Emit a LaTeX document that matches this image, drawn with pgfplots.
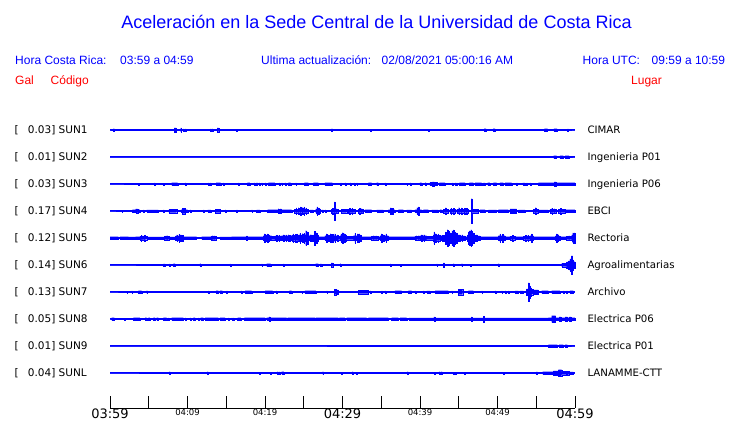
\documentclass[border=0pt]{standalone}
\usepackage{pgfplots}
\usepackage{pgfplotstable}
\pgfplotsset{compat=1.18}
\usepackage{fontspec}
\setmainfont{Liberation Sans}
\newfontfamily\dvs{DejaVu Sans}

\pgfplotstableread{
t a
0 0
0.43 1.3
0.55 0
8.26 2
8.52 0
9.12 2
9.22 0
9.46 1
9.56 0
9.72 1
9.82 0
12.95 1
13.05 0
13.16 1
13.26 0
13.81 2
14.02 0
16.34 0.8
16.44 0
28.60 1.3
28.70 0
33.63 0.8
33.73 0
41.08 0.8
41.18 0
48.26 1.3
48.52 0
49.42 1.3
49.68 0
56.04 1.3
56.47 0
57.29 1.3
57.68 0
59.05 1
59.15 0
60 0
}\sunA

\pgfplotstableread{
t a
0 0
57.25 1.3
57.63 0
58.06 1.3
58.49 0
58.71 1.3
59.23 0
60 0
}\sunB

\pgfplotstableread{
t a
0 0
3.66 0.8
3.76 0
5.72 1
5.82 0
6.88 0.8
6.98 0
7.96 1.3
8.73 0
9.68 1
9.78 0
12.69 1
12.79 0
12.95 1
13.05 0
13.68 1.3
14.28 0
14.62 1
14.72 0
16.56 1
16.66 0
17.72 1.3
18.06 0
18.58 1
18.68 0
18.92 1.3
19.02 0
19.23 1
19.33 0
19.57 1
19.67 0
20.00 1
20.10 0
20.43 1.3
21.29 0
21.85 1
21.95 0
22.15 1
22.25 0
22.58 1
22.68 0
23.01 1.3
23.31 0
23.96 1
24.06 0
25.08 1.3
25.59 0
26.24 1.3
26.88 0
27.74 1.3
28.69 0
29.76 1
29.86 0
30.32 1
30.42 0
30.97 1
31.07 0
31.48 1
31.58 0
31.83 1
31.93 0
33.33 1.3
33.76 0
34.41 1.3
34.62 0
35.48 1
35.58 0
38.28 0.8
38.38 0
38.71 1
38.81 0
40.00 1.3
40.22 0
40.65 1.3
40.80 0
41.29 1.6
41.60 2
41.85 1.6
42.15 0
42.49 1.3
43.23 0
44.17 1
44.27 0
44.52 1
44.62 0
44.73 1
44.83 0
45.08 1.3
45.81 0
46.37 1.3
46.88 0
47.10 1.3
47.96 0
48.17 1
48.39 0
48.73 1.3
49.03 0
49.46 1.3
49.89 0
50.32 1.3
50.75 0
50.97 1.3
51.83 0
52.47 1
52.57 0
53.25 1
53.55 0
53.76 1
53.86 0
54.19 1
54.29 0
55.27 1.3
57.30 2
57.55 1.3
60 1.3
}\sunC

\pgfplotstableread{
t a
0 0
1.51 0.7
1.61 0
2.88 1.3
3.31 2
3.57 1.3
3.87 0
4.30 1
4.40 0
4.73 1
6.24 0
6.88 1
6.98 0
7.61 1.7
8.60 0
9.16 1.3
9.33 2.7
9.68 1.3
10.02 0
10.32 1
10.42 0
12.04 1
12.14 0
12.60 1
13.03 0
13.55 1.7
14.19 0
14.84 1
14.94 0
16.34 1
16.44 0
18.28 1
18.38 0
18.92 1
19.35 0
20.34 1.3
21.72 2.3
21.80 1.3
22.00 2.3
22.08 1.3
23.44 0
23.78 1.7
24.00 3
24.08 1.7
24.30 3.3
24.38 1.7
24.55 4
24.63 1.7
24.80 3.3
24.88 1.7
25.00 4
25.08 1.7
25.25 3
25.33 1.7
25.59 0
25.81 1
26.24 0
26.54 2
26.70 4
26.78 2
26.90 3
26.98 2
27.10 0
27.31 1
27.53 0
27.74 1
27.84 0
28.60 1.7
28.70 2.7
28.78 1.7
28.95 9
29.05 1.7
29.20 2.3
29.28 1.7
29.46 0
29.89 1.7
30.54 0
30.67 1.7
30.90 2.7
30.98 1.7
31.20 2.7
31.28 1.7
31.61 0
32.04 1.7
32.20 2.7
32.28 1.7
32.45 2.3
32.53 1.7
32.69 0
32.90 1.3
33.76 0
34.41 1
35.27 0
35.91 1.3
36.20 3.3
36.28 1.3
36.40 2.7
36.48 1.3
36.77 0
37.20 1.3
37.85 0
38.28 1
38.92 0
39.35 1.3
39.60 3.3
39.68 1.3
39.80 4
39.88 1.3
40.22 0
40.43 1.3
41.08 0
41.51 1
42.37 0
42.58 1.3
42.80 0
43.01 1.7
43.30 3.3
43.38 1.7
43.66 0
43.87 1.7
44.00 2.7
44.08 1.7
44.30 2.7
44.38 1.7
44.52 0
44.73 1.7
45.00 3.3
45.08 1.7
45.30 3
45.38 1.7
45.70 2.7
45.78 1.7
46.00 2.7
46.08 1.7
46.24 0
46.62 12.3
46.72 1.7
47.53 0
47.74 1.3
48.39 0
48.82 1
49.89 0
50.11 1.3
51.40 0
51.61 2
52.47 0
52.69 1
53.55 0
54.62 1.7
54.90 3.3
54.98 1.7
55.27 1
56.56 0
56.77 1.7
57.00 2.7
57.08 1.7
57.30 2.3
57.38 1.7
57.63 0
57.85 1.7
58.10 2.7
58.18 1.7
58.71 1.3
60 1.3
}\sunD

\pgfplotstableread{
t a
0 1.3
1.08 0.5
1.29 1.3
2.37 1
3.31 1.3
3.87 1.7
4.00 2.7
4.08 1.7
4.20 2.3
4.28 1.7
4.40 2.7
4.48 1.7
4.73 1
7.01 1.7
7.20 2.3
7.28 1.7
7.40 2.3
7.48 1.7
7.66 1
8.47 2
8.60 3
8.68 2
8.90 3.7
8.98 2
9.10 3.3
9.18 2
9.30 2.7
9.38 2
9.46 1.3
11.18 0.5
11.83 1.3
13.03 1.7
13.20 2.3
13.28 1.7
13.40 2.3
13.48 1.7
13.76 0.5
14.19 1
15.70 1.3
17.63 2
17.71 1.3
19.78 2.3
19.90 4
19.98 2.3
20.10 3.3
20.18 2.3
20.30 4
20.38 2.3
20.50 3
20.58 2.3
20.86 1.7
21.29 2
21.50 2.7
21.58 2
21.80 2.7
21.88 2
22.15 2.3
22.40 3.3
22.48 2.3
22.70 3
22.78 2.3
23.00 3.3
23.08 2.3
23.20 2.7
23.28 2.3
23.44 2.7
23.60 4
23.68 2.7
23.90 3.7
23.98 2.7
24.10 4
24.18 2.7
24.30 3
24.50 4.7
24.58 3
24.80 4.3
24.88 3
25.00 4.7
25.08 3
25.16 3.3
25.25 7.3
25.33 3.3
25.45 6
25.53 3.3
25.59 2.3
25.80 3.3
25.88 2.3
26.00 3.3
26.08 2.3
26.24 3
26.40 6.7
26.48 3
26.60 5
26.68 3
26.88 1.3
27.74 2.3
27.90 4
27.98 2.3
28.20 3.3
28.28 2.3
28.40 4.3
28.48 2.3
28.70 3.7
28.78 2.3
29.00 4
29.08 2.3
29.30 3
29.38 2.3
29.46 1.7
29.68 2.3
29.80 4
29.88 2.3
30.00 5.3
30.08 2.3
30.20 4.3
30.28 2.3
30.40 3.3
30.48 2.3
30.54 1.7
31.40 2.3
31.60 4.7
31.68 2.3
31.90 4
31.98 2.3
32.10 4.3
32.18 2.3
32.30 3
32.38 2.3
32.47 1.3
33.76 1.7
34.00 2.3
34.08 1.7
34.30 2.3
34.38 1.7
34.62 1.3
34.84 2.3
35.00 4
35.08 2.3
35.30 3.3
35.38 2.3
35.60 4
35.68 2.3
35.91 1.3
39.35 1.7
39.50 2.3
39.58 1.7
39.80 2.3
39.88 1.7
40.00 2.3
40.20 3.3
40.28 2.3
40.50 3.3
40.58 2.3
40.86 1.7
41.72 3
41.80 6
41.88 3
42.00 4.3
42.08 3
42.15 2.7
42.30 4
42.38 2.7
42.58 2
42.80 2.7
42.88 2
43.00 2.7
43.08 2
43.23 3.3
43.30 6
43.38 3.3
43.50 8.3
43.58 3.3
43.70 6.7
43.78 3.3
43.90 5
43.98 3.3
44.10 7.3
44.18 3.3
44.30 8
44.38 3.3
44.50 6
44.58 3.3
44.70 5
44.78 3.3
44.95 2
45.10 3.3
45.18 2
45.40 3.3
45.48 2
45.81 1.3
46.11 3
46.20 6
46.28 3
46.40 7.3
46.48 3
46.55 8.3
46.63 3
46.70 6.7
46.78 3
46.90 5
46.98 3
47.10 2
47.30 3.3
47.38 2
47.74 1.3
50.11 2.3
50.30 4
50.38 2.3
50.60 3.7
50.68 2.3
50.97 1.3
51.61 1.7
51.90 2.7
51.98 1.7
52.26 1.3
53.33 1.7
53.60 2.7
53.68 1.7
53.90 2.7
53.98 1.7
54.19 2.3
54.40 4
54.48 2.3
54.62 1.3
57.42 2
57.60 4
57.68 2
57.80 3.3
57.88 2
58.06 1.3
58.92 1.7
59.20 2.3
59.28 1.7
59.57 3
59.70 5
59.78 3
59.90 5
60 5
}\sunE

\pgfplotstableread{
t a
0 0
6.88 1
7.10 0
7.66 1
7.76 0
8.17 1.3
8.39 0
11.61 1.3
11.71 0
15.48 1
15.58 0
19.57 1
19.67 0
20.22 1.3
20.73 0
22.37 1
22.47 0
26.54 1.3
26.88 0
27.10 1
27.31 0
28.52 2
28.73 0
29.68 1.3
29.78 0
36.13 1
36.23 0
37.42 0.7
37.52 0
42.15 1
42.25 0
43.01 2
43.16 0
44.30 1.3
44.40 0
45.38 1.3
45.48 0
46.45 0.8
46.55 0
50.11 1.3
50.21 0
58.28 1.7
58.92 3
59.15 4
59.35 6
59.55 9.3
59.65 5
59.80 3.3
60 3.3
}\sunF

\pgfplotstableread{
t a
0 0
2.15 0.8
2.25 0
2.80 1
2.90 0
3.66 1.3
4.09 0
4.73 1.3
4.83 0
12.69 1
12.79 0
13.68 1.3
13.98 0
14.19 1.3
14.49 0
15.05 1
15.15 0
16.90 1
17.00 0
17.42 1.3
18.28 0
20.00 1.3
20.99 0
21.42 1
21.52 0
23.14 1.3
23.44 0
24.73 0.8
24.83 0
25.16 1.3
26.58 0
27.96 1
28.06 0
28.95 2.7
29.20 2
29.46 0
32.04 1.7
33.33 0
33.55 1
33.65 0
35.05 1
35.15 0
35.48 1
35.58 0
36.77 1.3
37.63 0
38.49 1.3
38.92 0
39.35 1
39.45 0
40.43 1
40.53 0
40.86 1
41.29 0
41.94 1.3
43.66 0
44.09 1
44.19 0
44.95 2.7
45.51 0
46.24 1.3
46.88 0
47.96 1
48.06 0
49.68 1
49.78 0
50.54 1
50.64 0
50.97 1
51.07 0
51.40 1
51.50 0
52.26 1
52.69 0
52.90 1
53.33 0
53.76 3
53.95 9
54.10 6
54.25 4
54.40 2.7
54.54 2
55.27 0
55.70 1.3
56.56 0
56.99 1.3
58.06 0
58.49 1
58.59 0
58.92 1
59.02 0
59.35 1.3
59.78 0
60 0
}\sunG

\pgfplotstableread{
t a
0 0
0.22 1.3
0.56 0
1.85 0.7
1.95 0
3.01 1.3
3.87 0
4.52 1.3
4.73 0
4.95 1.3
5.16 0
5.59 1.3
5.81 0
6.02 1.3
6.24 0
6.88 1.3
7.31 0
7.53 1
7.63 0
7.96 1.3
9.46 0
9.68 1
9.78 0
10.32 1
10.42 0
10.75 1.3
10.97 0
11.40 1
11.50 0
11.70 1.3
12.04 0
12.26 1.3
13.98 0
14.19 1.3
14.84 0
15.27 1
15.37 0
15.70 1
15.80 0
15.91 1
16.01 0
16.47 1.3
16.90 0
17.33 1.3
20.00 0
20.22 1.3
20.50 2
20.62 1.3
22.80 0
22.92 1.3
26.45 0
26.54 1.3
29.46 0
29.59 1.3
30.32 0
30.54 1.3
33.12 0
33.33 1.3
35.91 0
36.34 1.3
37.20 0
37.42 1.3
38.28 0
38.58 1.2
41.80 2
41.90 1.2
46.62 2
46.72 1.2
48.21 2.7
48.31 1.2
56.56 1.3
56.99 3.3
57.50 1.3
57.94 2
58.19 1.3
58.71 2
59.01 1.3
59.27 2
59.48 1.3
60 1.3
}\sunH

\pgfplotstableread{
t a
0 0
56.56 1.3
57.72 0
57.94 1.3
58.49 0
58.71 1.3
59.01 0
60 0
}\sunI

\pgfplotstableread{
t a
0 0
7.66 1.3
7.76 0
12.56 1.3
12.66 0
19.27 0.8
19.37 0
20.69 0.8
20.79 0
21.59 1.3
21.69 0
21.81 1
21.91 0
22.15 1.3
22.45 0
27.44 1.3
27.54 0
29.85 0.8
29.95 0
31.27 1.3
31.37 0
31.78 0.8
31.88 0
38.37 1.3
38.47 0
41.85 0.8
41.95 0
42.49 1.3
42.59 0
42.75 1.3
42.85 0
44.34 0.8
44.44 0
44.56 0.8
44.66 0
45.72 0.8
45.82 0
50.75 0.8
50.85 0
54.97 1
55.18 0
55.83 1.3
57.20 2
57.85 3.3
58.28 1.7
58.92 0
59.00 1.7
59.27 0
59.35 1
59.78 0
60 0
}\sunJ

\newcommand{\trace}[5]{%
\begin{axis}[at={(110pt,#1pt-13.5pt)}, anchor=south west, width=465pt, height=27pt,
  scale only axis, xmin=0, xmax=60, ymin=-13.5, ymax=13.5, hide axis, clip=false]
\addplot[blue, line width=1pt] coordinates {(0,0) (60,0)};
\addplot[const plot, fill=blue, draw=blue, line width=0.3pt] table[x=t, y=a] {#2} \closedcycle;
\addplot[const plot, fill=blue, draw=blue, line width=0.3pt] table[x=t, y expr=-\thisrow{a}] {#2} \closedcycle;
\end{axis}
\node[anchor=base west, inner sep=0pt, font=\dvs\fontsize{10.5}{10.5}\selectfont] at (14.3pt,#1pt-3.8pt) {[};
\node[anchor=base west, inner sep=0pt, font=\dvs\fontsize{10.5}{10.5}\selectfont] at (27.7pt,#1pt-3.8pt) {#3] #4};
\node[anchor=base west, inner sep=0pt, font=\dvs\fontsize{10.2}{10.2}\selectfont] at (587.3pt,#1pt-3.7pt) {#5};
}

\begin{document}
\begin{tikzpicture}[x=1pt, y=1pt]
\path[use as bounding box] (0pt,0pt) rectangle (740pt,423pt);
% header
\node[anchor=base, inner sep=0pt, text=blue, font=\fontsize{18}{18}\selectfont] at (376.5pt,394.6pt) {Aceleración en la Sede Central de la Universidad de Costa Rica};
\begin{scope}[every node/.style={anchor=base west, inner sep=0pt, font=\fontsize{12}{12}\selectfont}]
\node[text=blue] at (15pt,358.5pt) {Hora Costa Rica:};
\node[text=blue] at (120pt,358.5pt) {03:59 a 04:59};
\node[text=blue] at (261pt,358.5pt) {Ultima actualización:};
\node[text=blue] at (381.5pt,358.5pt) {02/08/2021 05:00:16 AM};
\node[text=blue] at (582.5pt,358.5pt) {Hora UTC:};
\node[text=blue] at (651.5pt,358.5pt) {09:59 a 10:59};
\node[text=red] at (15pt,338.7pt) {Gal};
\node[text=red] at (50.5pt,338.7pt) {Código};
\node[text=red] at (631pt,338.7pt) {Lugar};
\end{scope}

\trace{293}{\sunA}{0.03}{SUN1}{CIMAR}
\trace{266}{\sunB}{0.01}{SUN2}{Ingenieria P01}
\trace{239}{\sunC}{0.03}{SUN3}{Ingenieria P06}
\trace{212}{\sunD}{0.17}{SUN4}{EBCI}
\trace{185}{\sunE}{0.12}{SUN5}{Rectoria}
\trace{158}{\sunF}{0.14}{SUN6}{Agroalimentarias}
\trace{131}{\sunG}{0.13}{SUN7}{Archivo}
\trace{104}{\sunH}{0.05}{SUN8}{Electrica P06}
\trace{77}{\sunI}{0.01}{SUN9}{Electrica P01}
\trace{50}{\sunJ}{0.04}{SUNL}{LANAMME-CTT}

% time axis
\begin{axis}[at={(110pt,15pt)}, anchor=south west, width=465pt, height=12pt,
  scale only axis, xmin=0, xmax=60, ymin=0, ymax=1,
  axis x line*=bottom, axis y line=none,
  x axis line style={black, -, line width=0.9pt},
  xtick={0,5,...,60}, tick align=inside, major tick length=12pt,
  tick style={black, line width=0.9pt},
  xticklabel style={font=\dvs, inner sep=0.5pt, text=black},
  xticklabels={{\fontsize{13}{13}\selectfont 03:59},{},{\fontsize{8.5}{8.5}\selectfont 04:09},{},{\fontsize{8.5}{8.5}\selectfont 04:19},{},{\fontsize{13}{13}\selectfont 04:29},{},{\fontsize{8.5}{8.5}\selectfont 04:39},{},{\fontsize{8.5}{8.5}\selectfont 04:49},{},{\fontsize{13}{13}\selectfont 04:59}}]
\addplot[draw=none] coordinates {(0,0) (60,0)};
\end{axis}
\end{tikzpicture}
\end{document}
